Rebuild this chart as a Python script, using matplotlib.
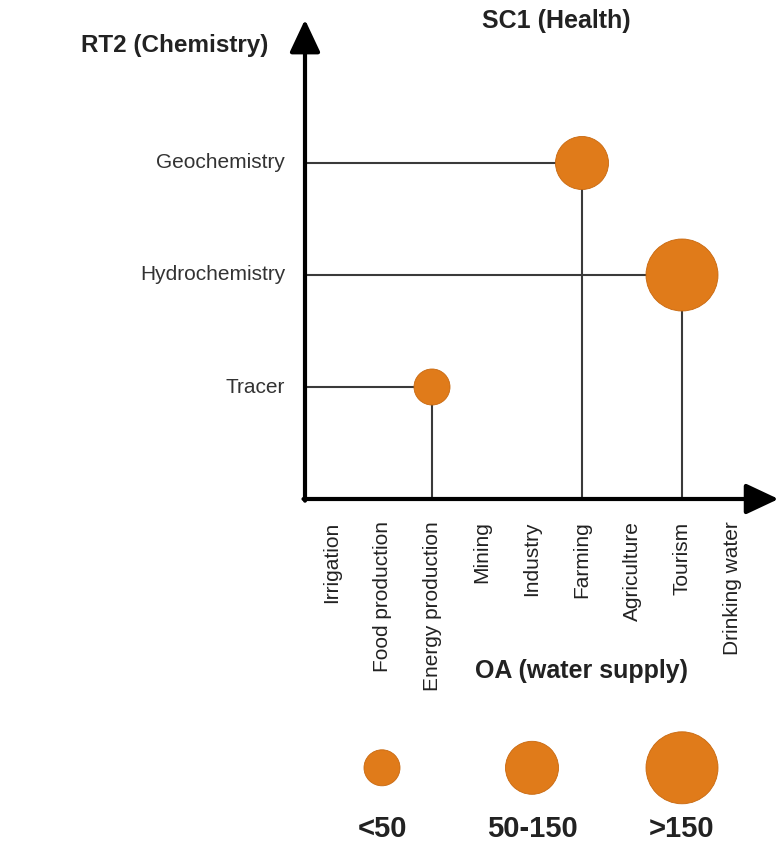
import numpy as np
import matplotlib
matplotlib.use('Agg')
from matplotlib import pyplot as plt

plt.rcParams['font.family'] = ['Liberation Sans', 'DejaVu Sans']

# categories
uses = ['Irrigation', 'Food production', 'Energy production', 'Mining', 'Industry',
        'Farming', 'Agriculture', 'Tourism', 'Drinking water']
topics = ['Tracer', 'Hydrochemistry', 'Geochemistry']

# links: topic -> use, with size class (0: <50, 1: 50-150, 2: >150)
link_topic = ['Tracer', 'Geochemistry', 'Hydrochemistry']
link_use = ['Energy production', 'Farming', 'Tourism']
link_class = [0, 1, 2]

size_labels = ['<50', '50-150', '>150']
size_area = [672, 1457, 2687]      # marker area, pt^2
legend_use = ['Food production', 'Industry', 'Tourism']   # where legend bubbles sit

ORANGE = '#e07b1a'
EDGE = '#c8680f'

fig = plt.figure(figsize=(7.78, 8.46), dpi=100)
ax = fig.add_axes([0, 0, 1, 1])
# one category step = 50 px horizontally, 112 px vertically
ax.set_xlim(-332 / 50, (778 - 332) / 50)
ax.set_ylim((499 - 846) / 112, 499 / 112)
ax.axis('off')

xpos = {u: i for i, u in enumerate(uses)}
ypos = {t: i + 1 for i, t in enumerate(topics)}
x0, y0 = -0.54, 0.0

# stems
for t, u in zip(link_topic, link_use):
    ax.plot([x0, xpos[u]], [ypos[t], ypos[t]], color='#3a3a3a', lw=1.5, zorder=2)
    ax.plot([xpos[u], xpos[u]], [y0, ypos[t]], color='#3a3a3a', lw=1.5, zorder=2)

# bubbles
ax.scatter([xpos[u] for u in link_use], [ypos[t] for t in link_topic],
           s=[size_area[c] for c in link_class], color=ORANGE, edgecolor=EDGE,
           lw=0.6, zorder=3)

# axes with arrows
arrow = dict(arrowstyle='-|>,head_length=1.0,head_width=0.47', lw=3,
             color='black', mutation_scale=20, shrinkA=0, shrinkB=0)
ax.annotate('', xy=(x0, 4.28), xytext=(x0, y0 - 0.015), arrowprops=arrow,
            annotation_clip=False)
ax.annotate('', xy=(8.93, y0), xytext=(x0 - 0.03, y0), arrowprops=arrow,
            annotation_clip=False)

# tick labels
for t in topics:
    ax.text(x0 - 0.4, ypos[t], t, ha='right', va='center', fontsize=15, color='#333333')
for u in uses:
    ax.text(xpos[u], -0.2, u, rotation=90, ha='center', va='top', fontsize=15,
            color='#222222')

# titles
ax.text(-3.14, 4.05, 'RT2 (Chemistry)', ha='center', va='center', fontsize=17.5,
        fontweight='bold', color='#222222')
ax.text(4.48, 4.27, 'SC1 (Health)', ha='center', va='center', fontsize=18,
        fontweight='bold', color='#222222')
ax.text(4.98, -1.54, 'OA (water supply)', ha='center', va='center', fontsize=18,
        fontweight='bold', color='#222222')

# size legend
ly = -2.4
ax.scatter([xpos[u] for u in legend_use], [ly] * 3, s=size_area, color=ORANGE,
           edgecolor=EDGE, lw=0.6, zorder=3)
for u, lab in zip(legend_use, size_labels):
    ax.text(xpos[u], -2.945, lab, ha='center', va='center', fontsize=21,
            fontweight='bold', color='#222222')

plt.savefig('out.png', dpi=100)
